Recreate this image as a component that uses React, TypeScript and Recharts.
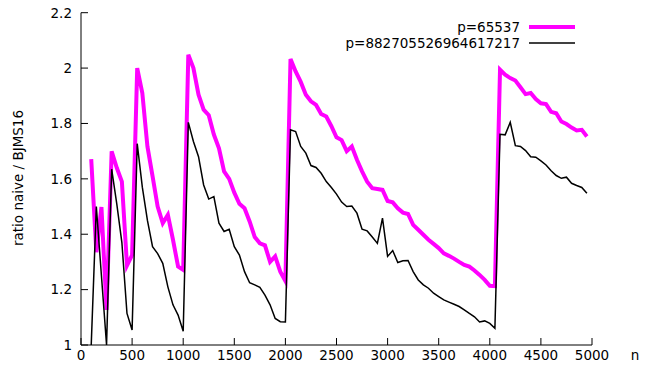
import React from 'react';
import { LineChart, Line, XAxis, YAxis, Legend } from 'recharts';

const nValues = [
  100, 150, 200, 250, 300, 350, 400, 450, 500, 550, 600, 650, 700, 750, 800, 850, 900, 950, 1000,
  1050, 1100, 1150, 1200, 1250, 1300, 1350, 1400, 1450, 1500, 1550, 1600, 1650, 1700, 1750, 1800, 1850, 1900, 1950, 2000,
  2050, 2100, 2150, 2200, 2250, 2300, 2350, 2400, 2450, 2500, 2550, 2600, 2650, 2700, 2750, 2800, 2850, 2900, 2950, 3000,
  3050, 3100, 3150, 3200, 3250, 3300, 3350, 3400, 3450, 3500, 3550, 3600, 3650, 3700, 3750, 3800, 3850, 3900, 3950, 4000,
  4050, 4100, 4150, 4200, 4250, 4300, 4350, 4400, 4450, 4500, 4550, 4600, 4650, 4700, 4750, 4800, 4850, 4900, 4950,
];

const ratioP65537 = [
  1.671, 1.335, 1.498, 1.127, 1.699, 1.64, 1.59, 1.287, 1.325, 2.0, 1.91, 1.717, 1.61, 1.5, 1.44, 1.47, 1.38, 1.283, 1.271,
  2.048, 2.0, 1.904, 1.85, 1.83, 1.76, 1.71, 1.627, 1.6, 1.55, 1.51, 1.494, 1.446, 1.39, 1.367, 1.36, 1.3, 1.32, 1.265, 1.231,
  2.033, 1.988, 1.95, 1.904, 1.88, 1.867, 1.834, 1.825, 1.79, 1.75, 1.74, 1.7, 1.717, 1.669, 1.627, 1.59, 1.566, 1.563, 1.56, 1.52,
  1.515, 1.494, 1.478, 1.473, 1.434, 1.416, 1.398, 1.38, 1.365, 1.35, 1.331, 1.322, 1.312, 1.3, 1.289, 1.283, 1.269, 1.253, 1.235, 1.214,
  1.213, 1.994, 1.976, 1.964, 1.955, 1.931, 1.906, 1.91, 1.888, 1.873, 1.87, 1.842, 1.837, 1.807, 1.798, 1.785, 1.775, 1.777, 1.753,
];

const ratioPBig = [
  1.0, 1.5, 1.25, 1.0, 1.635, 1.51, 1.37, 1.114, 1.054, 1.727, 1.57, 1.45, 1.355, 1.33, 1.295, 1.21, 1.145, 1.108, 1.05,
  1.804, 1.735, 1.68, 1.578, 1.527, 1.536, 1.44, 1.41, 1.418, 1.355, 1.325, 1.265, 1.225, 1.217, 1.208, 1.18, 1.145, 1.096, 1.084, 1.083,
  1.777, 1.771, 1.717, 1.693, 1.648, 1.641, 1.62, 1.59, 1.569, 1.545, 1.516, 1.5, 1.502, 1.476, 1.418, 1.412, 1.39, 1.367, 1.458, 1.32,
  1.341, 1.298, 1.304, 1.305, 1.265, 1.235, 1.217, 1.205, 1.187, 1.175, 1.163, 1.155, 1.147, 1.139, 1.127, 1.114, 1.102, 1.083, 1.087, 1.078,
  1.06, 1.761, 1.759, 1.804, 1.72, 1.717, 1.702, 1.68, 1.678, 1.665, 1.65, 1.629, 1.612, 1.602, 1.606, 1.584, 1.576, 1.569, 1.548,
];

const xTicks = [0, 500, 1000, 1500, 2000, 2500, 3000, 3500, 4000, 4500, 5000];
const yTicks = [1, 1.2, 1.4, 1.6, 1.8, 2, 2.2];

const seriesNames = ['p=65537', 'p=882705526964617217'];
const seriesColors = ['#ff00ff', '#000000'];

const data = nValues.map((n, i) => ({ n, a: ratioP65537[i], b: ratioPBig[i] }));

const FONT = '"DejaVu Sans", sans-serif';
const FS = 13.5;
const TICK = 7;

const BottomTick = (props: any) => {
  const { x, y, payload } = props;
  return (
    <g>
      <line x1={x} x2={x} y1={y} y2={y - TICK} stroke="#000" strokeWidth={1} />
      <text x={x} y={y + 14.5} textAnchor="middle" fontFamily={FONT} fontSize={FS} fill="#000">
        {payload.value}
      </text>
    </g>
  );
};

const TopTick = (props: any) => {
  const { x, y } = props;
  return <line x1={x} x2={x} y1={y} y2={y + TICK} stroke="#000" strokeWidth={1} />;
};

const LeftTick = (props: any) => {
  const { x, y, payload } = props;
  return (
    <g>
      <line x1={x} x2={x + TICK} y1={y} y2={y} stroke="#000" strokeWidth={1} />
      <text x={x - 9} y={y + 4.8} textAnchor="end" fontFamily={FONT} fontSize={FS} fill="#000">
        {String(payload.value)}
      </text>
    </g>
  );
};

const RightTick = (props: any) => {
  const { x, y } = props;
  return <line x1={x} x2={x - TICK} y1={y} y2={y} stroke="#000" strokeWidth={1} />;
};

const LegendContent = () => (
  <div style={{ position: 'absolute', left: 0, top: 19, width: 575, fontFamily: FONT, fontSize: FS }}>
    {seriesNames.map((name, i) => (
      <div key={name} style={{ display: 'flex', justifyContent: 'flex-end', alignItems: 'center', height: 16, lineHeight: '16px' }}>
        <span style={{ color: '#000', whiteSpace: 'nowrap' }}>{name}</span>
        <svg width={46} height={16} style={{ marginLeft: 9, display: 'block' }}>
          <line x1={0} x2={46} y1={8} y2={8} stroke={seriesColors[i]} strokeWidth={i === 0 ? 4 : 1.5} />
        </svg>
      </div>
    ))}
  </div>
);

export default function App() {
  return (
    <div style={{ position: 'absolute', left: 0, top: 0, width: 663, height: 375, background: '#fff' }}>
      <LineChart
        width={663}
        height={375}
        data={data}
        margin={{ top: 12.7, right: 71, bottom: 0, left: 0 }}
        style={{ fontFamily: FONT }}
      >
        <XAxis
          xAxisId="bottom"
          dataKey="n"
          type="number"
          domain={[0, 5000]}
          ticks={xTicks}
          interval={0}
          height={30}
          tickSize={0}
          tickMargin={0}
          tickLine={false}
          axisLine={{ stroke: '#000', strokeWidth: 1 }}
          tick={<BottomTick />}
          label={{
            content: () => (
              <text x={635} y={360} textAnchor="middle" fontFamily={FONT} fontSize={FS} fill="#000">
                n
              </text>
            ),
          }}
        />
        <XAxis
          xAxisId="top"
          orientation="top"
          dataKey="n"
          type="number"
          domain={[0, 5000]}
          ticks={xTicks}
          interval={0}
          height={0}
          tickSize={0}
          tickMargin={0}
          tickLine={false}
          axisLine={{ stroke: '#000', strokeWidth: 1 }}
          tick={<TopTick />}
        />
        <YAxis
          yAxisId="left"
          type="number"
          domain={[1, 2.2]}
          ticks={yTicks}
          interval={0}
          width={81}
          tickSize={0}
          tickMargin={0}
          tickLine={false}
          axisLine={{ stroke: '#000', strokeWidth: 1 }}
          tick={<LeftTick />}
          label={{
            content: () => (
              <text
                x={18}
                y={178}
                transform="rotate(-90 18 178)"
                textAnchor="middle"
                dominantBaseline="central"
                fontFamily={FONT}
                fontSize={FS}
                fill="#000"
              >
                ratio naive / BJMS16
              </text>
            ),
          }}
        />
        <YAxis
          yAxisId="right"
          orientation="right"
          type="number"
          domain={[1, 2.2]}
          ticks={yTicks}
          interval={0}
          width={0}
          tickSize={0}
          tickMargin={0}
          tickLine={false}
          axisLine={{ stroke: '#000', strokeWidth: 1 }}
          tick={<RightTick />}
        />
        <Legend
          layout="horizontal"
          verticalAlign="middle"
          align="center"
          content={<LegendContent />}
          wrapperStyle={{ position: 'absolute', left: 0, top: 0, width: 663, height: 0 }}
        />
        <Line
          xAxisId="bottom"
          yAxisId="left"
          type="linear"
          dataKey="a"
          name={seriesNames[0]}
          stroke={seriesColors[0]}
          strokeWidth={4}
          dot={false}
          isAnimationActive={false}
          strokeLinejoin="miter"
        />
        <Line
          xAxisId="bottom"
          yAxisId="left"
          type="linear"
          dataKey="b"
          name={seriesNames[1]}
          stroke={seriesColors[1]}
          strokeWidth={1.5}
          dot={false}
          isAnimationActive={false}
        />
      </LineChart>
    </div>
  );
}
